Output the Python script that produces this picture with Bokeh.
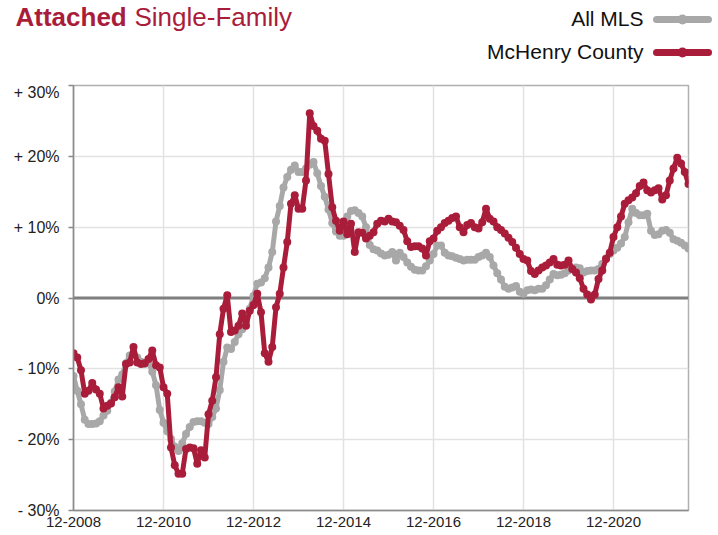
from bokeh.plotting import figure
from bokeh.layouts import column
from bokeh.models import Range1d, FixedTicker, Span
from bokeh.core.properties import value
from bokeh.embed import file_html
from bokeh.resources import INLINE

# ---- data (year-over-year % change, monthly, 12-2008 .. 08-2022) ----
mchenry = [
    -7.8, -8.4, -10.2, -13.5, -13.1, -12.0, -12.9, -13.5, -15.6, -15.2,
    -14.9, -14.0, -12.6, -13.9, -9.3, -9.1, -6.9, -9.1, -9.3, -9.2,
    -8.6, -7.4, -9.5, -9.8, -12.6, -13.5, -21.1, -23.6, -24.8, -24.8,
    -21.3, -21.1, -21.2, -23.4, -21.5, -22.5, -16.4, -14.5, -11.2, -5.1,
    -1.5, 0.4, -4.8, -4.6, -3.9, -2.2, -3.9, -1.8, -1.0, 0.6,
    -2.0, -7.8, -9.0, -6.9, -1.3, 0.6, 4.3, 7.9, 13.3, 14.5,
    12.6, 12.6, 16.6, 26.1, 24.3, 23.6, 22.5, 22.2, 17.5, 12.8,
    10.9, 9.5, 10.8, 9.0, 10.5, 6.5, 9.3, 9.2, 8.4, 8.8,
    9.3, 10.5, 10.9, 10.8, 11.2, 10.8, 10.7, 10.2, 9.6, 8.0,
    7.2, 7.3, 7.3, 7.0, 6.0, 8.0, 8.4, 9.5, 10.0, 10.6,
    10.9, 11.3, 11.5, 10.0, 9.3, 10.3, 10.6, 10.0, 9.8, 10.7,
    12.6, 11.2, 10.8, 10.0, 9.6, 9.1, 8.5, 7.9, 7.1, 6.2,
    5.5, 5.3, 3.8, 3.4, 3.9, 4.3, 4.6, 5.0, 5.5, 4.7,
    4.6, 4.7, 5.3, 4.1, 3.6, 2.8, 1.3, 0.5, -0.2, 0.5,
    2.7, 3.9, 5.5, 6.4, 8.6, 10.0, 11.5, 13.3, 13.8, 14.2,
    14.8, 15.8, 16.3, 15.2, 14.9, 15.2, 15.5, 13.9, 14.5, 16.6,
    18.3, 19.8, 19.0, 17.8, 16.1,
]
all_mls = [
    -11.0, -13.1, -15.0, -17.2, -17.8, -17.8, -17.7, -17.4, -16.6, -15.9,
    -14.8, -13.2, -11.5, -10.8, -9.2, -8.1, -7.9, -8.4, -9.0, -9.3,
    -9.1, -10.4, -12.3, -15.8, -17.6, -18.8, -19.9, -21.0, -21.6, -20.5,
    -19.2, -18.2, -17.5, -17.4, -17.4, -17.6, -17.8, -16.8, -15.6, -13.0,
    -9.0, -7.0, -7.2, -6.2, -5.1, -4.4, -3.4, -1.5, 0.3, 2.0,
    2.2, 2.8, 4.3, 6.5, 10.8, 13.0, 15.6, 17.1, 18.1, 18.7,
    17.8, 17.8, 18.3, 18.8, 19.2, 17.6, 15.8, 14.3, 12.5, 10.6,
    9.4, 8.8, 8.8, 11.5, 12.3, 12.4, 12.0, 11.5, 10.0, 7.5,
    6.9, 6.7, 6.3, 6.0, 6.1, 6.5, 5.3, 6.4, 5.8, 5.0,
    4.4, 4.0, 3.9, 3.9, 4.5, 5.3, 6.2, 7.4, 7.4, 6.4,
    6.0, 5.9, 5.7, 5.5, 5.3, 5.4, 5.4, 5.4, 5.8, 6.0,
    6.4, 5.8, 4.6, 3.5, 2.6, 1.6, 1.3, 1.5, 1.7, 0.9,
    0.6, 1.1, 1.2, 1.1, 1.3, 1.3, 1.8, 2.6, 3.4, 3.2,
    3.3, 3.5, 3.9, 4.1, 4.3, 4.2, 3.6, 3.8, 3.9, 3.9,
    4.1, 4.8, 5.6, 6.2, 6.7, 7.1, 7.7, 8.6, 10.7, 12.6,
    12.0, 11.7, 11.7, 11.9, 9.5, 8.9, 9.0, 9.5, 9.6, 9.2,
    8.3, 8.1, 7.8, 7.4, 7.0,
]
months = list(range(len(mchenry)))  # months since 12-2008

x_tick_months = [0, 24, 48, 72, 96, 120, 144]
x_tick_labels = ["12-2008", "12-2010", "12-2012", "12-2014", "12-2016", "12-2018", "12-2020"]
y_ticks = [-30, -20, -10, 0, 10, 20, 30]
y_tick_labels = ["- 30%", "- 20%", "- 10%", "0%", "+ 10%", "+ 20%", "+ 30%"]

series_names = ["All MLS", "McHenry County"]
title_bold = "Attached"
title_rest = "Single-Family"

RED = "#a91d3a"
GRAY = "#a8a8a8"
FONT = "Liberation Sans"
series_colors = [GRAY, RED]

W, H = 718, 535
HEADER_H = 83

# ---------- header: title + legend (pixel coordinate space) ----------
header = figure(width=W, height=HEADER_H, output_backend="svg", toolbar_location=None,
                x_range=Range1d(0, W), y_range=Range1d(HEADER_H, 0),
                x_axis_location=None, y_axis_location=None, min_border=0)
header.outline_line_color = None
for g in header.grid:
    g.visible = False

header.text(x=[15], y=[1], text=[title_bold], text_font=value(FONT), text_font_size="26px",
            text_font_style="bold", text_color=RED, text_baseline="top")
header.text(x=[134], y=[1], text=[title_rest], text_font=value(FONT), text_font_size="26px",
            text_color=RED, text_baseline="top")

legend_rows = [18, 51]
header.text(x=[643] * len(series_names), y=legend_rows, text=series_names,
            text_font=value(FONT), text_font_size="21px", text_color="#111111",
            text_align="right", text_baseline="middle")
for col, cy in zip(series_colors, legend_rows):
    header.line(x=[656, 708], y=[cy + 1, cy + 1], line_color=col, line_width=7, line_cap="round")
    header.scatter(x=[682], y=[cy + 1], size=10, fill_color=col, line_color=None)

# ---------- main chart ----------
p = figure(width=W, height=H - HEADER_H, output_backend="svg", toolbar_location=None,
           x_range=Range1d(months[0], months[-1]), y_range=Range1d(-30, 30),
           min_border_left=73, min_border_right=30, min_border_top=2, min_border_bottom=25)
p.background_fill_color = "white"
p.border_fill_color = "white"
p.outline_line_color = "#b0b0b0"
p.outline_line_width = 1.5

for fig in (header, p):
    try:
        fig.frame_align = False
    except Exception:
        pass

p.xaxis.ticker = FixedTicker(ticks=x_tick_months)
p.xaxis.major_label_overrides = {m: l for m, l in zip(x_tick_months, x_tick_labels)}
p.yaxis.ticker = FixedTicker(ticks=y_ticks)
p.yaxis.major_label_overrides = {t: l for t, l in zip(y_ticks, y_tick_labels)}
for ax in (p.xaxis[0], p.yaxis[0]):
    ax.axis_line_color = "#8a8a8a"
    ax.axis_line_width = 1.5
    ax.major_tick_line_color = "#8a8a8a"
    ax.major_tick_line_width = 1.5
    ax.minor_tick_line_color = None
    ax.major_tick_in = 0
    ax.major_label_text_font = FONT
    ax.major_label_text_color = "#222222"
p.xaxis.major_label_text_font_size = "15px"
p.yaxis.major_label_text_font_size = "16px"
p.xaxis.major_tick_out = 0
p.xaxis.major_label_standoff = 6
p.yaxis.major_tick_out = 5
p.yaxis.major_label_standoff = 9

p.xgrid.ticker = FixedTicker(ticks=x_tick_months)
p.ygrid.ticker = FixedTicker(ticks=y_ticks)
p.grid.grid_line_color = "#e2e2e2"
p.grid.grid_line_width = 1.5

p.add_layout(Span(location=0, dimension="width", line_color="#7f7f7f", line_width=3,
                  level="underlay"))

p.line(months, all_mls, line_color=GRAY, line_width=5, line_join="round")
p.scatter(months, all_mls, size=8, fill_color=GRAY, line_color=None)
p.line(months, mchenry, line_color=RED, line_width=5, line_join="round")
p.scatter(months, mchenry, size=8, fill_color=RED, line_color=None)

layout = column(header, p, spacing=0)
open("out.html", "w").write(file_html(layout, INLINE))
